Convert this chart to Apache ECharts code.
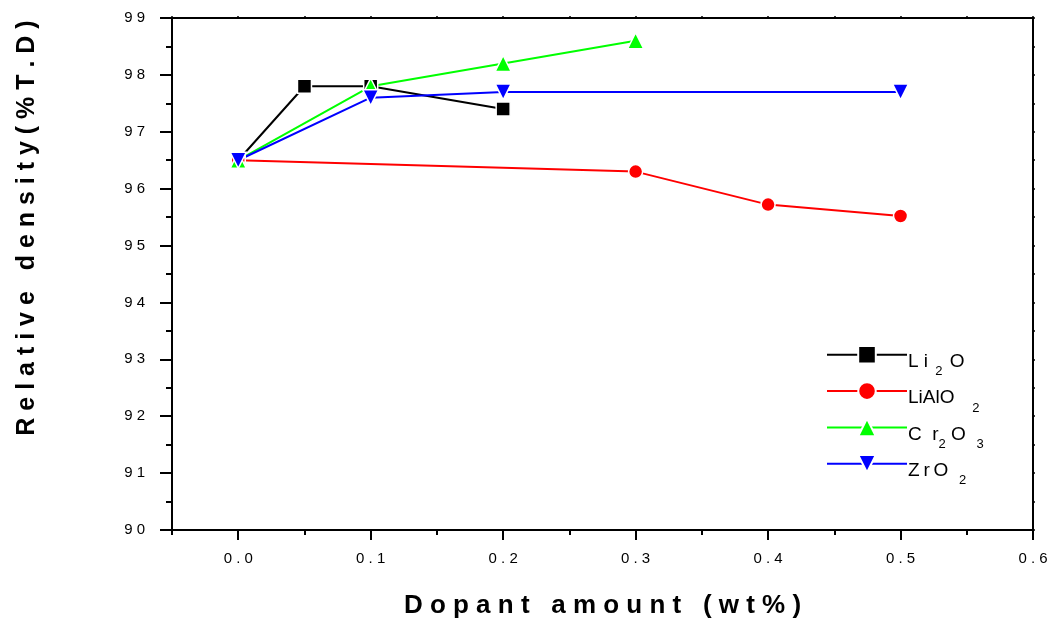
<!DOCTYPE html>
<html>
<head>
<meta charset="utf-8">
<script src="https://cdn.jsdelivr.net/npm/echarts@6/dist/echarts.min.js"></script>
<style>html,body{margin:0;padding:0;background:#fff;}#c{width:1052px;height:621px;}</style>
</head>
<body>
<div id="c"></div>
<script>
const seriesNames = ['Li2O', 'LiAlO2', 'Cr2O3', 'ZrO2'];
const li2oData   = [[0, 96.5], [0.05, 97.8], [0.1, 97.8], [0.2, 97.4]];
const lialo2Data = [[0, 96.5], [0.3, 96.3], [0.4, 95.72], [0.5, 95.52]];
const cr2o3Data  = [[0, 96.5], [0.1, 97.8], [0.2, 98.2], [0.3, 98.6]];
const zro2Data   = [[0, 96.5], [0.1, 97.6], [0.2, 97.7], [0.5, 97.7]];
const xMajorTicks = [0, 0.1, 0.2, 0.3, 0.4, 0.5, 0.6];
const xTitle = 'D o p a n t   a m o u n t   ( w t % )';
const yTitle = 'R e l a t i v e   d e n s i t y ( % T . D )';
const legendLabels = {
  'Li2O': '{n|L i}{s|  2  }{n|O}',
  'LiAlO2': '{n|LiAlO  }{s|  2}',
  'Cr2O3': '{n|C  r}{s|2}{n| O  }{s|3}',
  'ZrO2': '{n|Z\u2009r\u2009O  }{s|2}'
};

const FONT = 'Liberation Sans, Arial, sans-serif';
const spaced = s => s.split('').join(' ');
const chart = echarts.init(document.getElementById('c'));

function mkSeries(name, data, color, symbol, size, rotate) {
  return {
    name, type: 'line', data, xAxisIndex: 0, yAxisIndex: 0,
    symbol, symbolSize: size, symbolRotate: rotate || 0,
    lineStyle: { color, width: 2 },
    itemStyle: { color, borderColor: '#fff', borderWidth: 1.5 },
    emphasis: { disabled: true },
    animation: false
  };
}

chart.setOption({
  animation: false,
  grid: { left: 172, right: 19, top: 18, bottom: 91, containLabel: false, outerBoundsMode: 'none' },
  xAxis: [
    {
      type: 'value', min: -0.05, max: 0.6, interval: 0.05, position: 'bottom',
      axisLine: { onZero: false, lineStyle: { color: '#000', width: 2 } },
      axisTick: { length: 5, lineStyle: { color: '#000', width: 2 } },
      splitLine: { show: false },
      axisLabel: {
        margin: 21, color: '#000', fontFamily: FONT, fontSize: 15, showMaxLabel: true, showMinLabel: true,
        formatter: v => { const r = Math.round(v * 100); if (r < 0 || r % 10 !== 0) return ''; return spaced((r / 100).toFixed(1)); }
      },
      name: xTitle, nameLocation: 'middle', nameGap: 63,
      nameTextStyle: { fontFamily: FONT, fontSize: 26, fontWeight: 'bold', color: '#000' }
    },
    {
      type: 'value', min: -0.05, max: 0.6, position: 'bottom',
      axisLine: { show: false, onZero: false },
      axisTick: { show: true, customValues: xMajorTicks, length: 10, lineStyle: { color: '#000', width: 2 } },
      axisLabel: { show: false }, splitLine: { show: false }
    },
    {
      type: 'value', min: -0.05, max: 0.6, interval: 0.05, position: 'top',
      axisLine: { onZero: false, lineStyle: { color: '#000', width: 2 } },
      axisTick: { length: 2, lineStyle: { color: '#000', width: 1.5 } },
      axisLabel: { show: false }, splitLine: { show: false }
    }
  ],
  yAxis: [
    {
      type: 'value', min: 90, max: 99, interval: 1, position: 'left',
      axisLine: { show: true, onZero: false, lineStyle: { color: '#000', width: 2 } },
      axisTick: { show: true, length: 12, lineStyle: { color: '#000', width: 2 } },
      minorTick: { show: true, splitNumber: 2, length: 6, lineStyle: { color: '#000', width: 2 } },
      splitLine: { show: false },
      axisLabel: { margin: 27, color: '#000', fontFamily: FONT, fontSize: 15, formatter: v => spaced(String(v)) },
      name: yTitle, nameLocation: 'middle', nameGap: 132,
      nameTextStyle: { fontFamily: FONT, fontSize: 25, fontWeight: 'bold', color: '#000', padding: [0, 0, 0, 92] }
    },
    {
      type: 'value', min: 90, max: 99, interval: 0.5, position: 'right',
      axisLine: { show: true, onZero: false, lineStyle: { color: '#000', width: 2 } },
      axisTick: { show: true, length: 2, lineStyle: { color: '#000', width: 1.5 } },
      axisLabel: { show: false }, splitLine: { show: false }
    }
  ],
  legend: {
    orient: 'vertical', left: 826, top: 345, padding: 0, itemWidth: 80, itemHeight: 22, itemGap: 3,
    data: seriesNames,
    formatter: name => legendLabels[name],
    textStyle: {
      fontFamily: FONT, fontSize: 19, color: '#000', padding: [0, 0, 0, -4],
      rich: {
        n: { fontFamily: FONT, fontSize: 19, color: '#000', padding: [14, 0, 0, 0] },
        s: { fontFamily: FONT, fontSize: 13, color: '#000', padding: [34, 0, 0, 0] }
      }
    },
    selectedMode: false
  },
  series: [
    mkSeries('Li2O', li2oData, '#000000', 'rect', 14),
    mkSeries('LiAlO2', lialo2Data, '#ff0000', 'circle', 14),
    mkSeries('Cr2O3', cr2o3Data, '#00ff00', 'triangle', 16),
    mkSeries('ZrO2', zro2Data, '#0000ff', 'triangle', 16, 180)
  ]
});
</script>
</body>
</html>
